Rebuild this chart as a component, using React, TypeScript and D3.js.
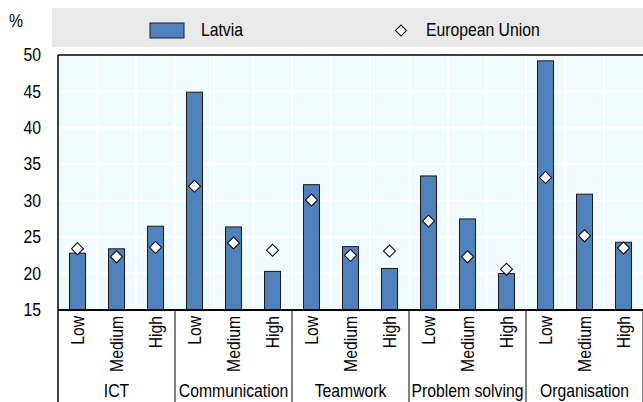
import React from 'react';
import * as d3 from 'd3';

const groups = ['ICT', 'Communication', 'Teamwork', 'Problem solving', 'Organisation'];
const levels = ['Low', 'Medium', 'High'];
const latvia = [22.8, 23.4, 26.5, 44.9, 26.4, 20.3, 32.2, 23.7, 20.7, 33.4, 27.5, 20.0, 49.2, 30.9, 24.3];
const eu = [23.4, 22.3, 23.6, 32.0, 24.2, 23.2, 30.1, 22.5, 23.1, 27.2, 22.3, 20.6, 33.2, 25.2, 23.5];
const yTicks = [15, 20, 25, 30, 35, 40, 45, 50];

const font = "'Liberation Sans', Arial, sans-serif";

// text a bit narrower than plain Arial, like the original
const T = ({ x, y, rotate = 0, anchor = 'start', dy = '0', children }) => (
    <text
        transform={`translate(${x},${y}) rotate(${rotate}) scale(0.9,1)`}
        textAnchor={anchor}
        dy={dy}
        fontSize={17.5}
        fill="#000"
    >
        {children}
    </text>
);

const App = () => {
    const width = 643;
    const height = 402;
    const left = 58;
    const right = 643;
    const top = 55;
    const bottom = 310;

    // one entry per bar: group + level
    const keys = groups.flatMap((g) => levels.map((l) => `${g}|${l}`));

    const xScale = d3.scaleBand().domain(keys).range([left, right]).padding(0);
    const groupScale = d3.scaleBand().domain(groups).range([left, right]).padding(0);
    const yScale = d3.scaleLinear().domain([15, 50]).range([bottom, top]);

    const bw = xScale.bandwidth();
    const barW = bw * 0.41;
    const diamond = d3.symbol(d3.symbolSquare, 72)();
    const legendDiamond = d3.symbol(d3.symbolSquare, 60)();

    return (
        <svg
            width={width}
            height={height}
            style={{ position: 'absolute', left: 0, top: 0, display: 'block', background: '#fff' }}
            fontFamily={font}
        >
            {/* legend */}
            <rect x={52} y={8} width={right - 52} height={39} fill="#e9e9e9" />
            <T x={9} y={27}>%</T>
            <rect x={150} y={23} width={34} height={15} fill="#4f81bd" stroke="#1a1a1a" strokeWidth={1} />
            <T x={201} y={36}>Latvia</T>
            <path d={legendDiamond} transform="translate(401,30.5) rotate(45)" fill="#fff" stroke="#000" strokeWidth={1} />
            <T x={426} y={36}>European Union</T>

            {/* plot background + grid */}
            <rect x={left} y={top} width={right - left} height={bottom - top} fill="#f0fbfd" />
            {yTicks.slice(1, -1).map((t) => (
                <line key={t} x1={left} x2={right} y1={yScale(t)} y2={yScale(t)} stroke="#fff" strokeWidth={2} />
            ))}
            {keys.slice(1).map((k) => (
                <line key={k} x1={xScale(k)} x2={xScale(k)} y1={top} y2={bottom} stroke="#fff" strokeWidth={2} />
            ))}

            {/* bars */}
            {keys.map((k, i) => (
                <rect
                    key={k}
                    x={xScale(k) + (bw - barW) / 2}
                    y={yScale(latvia[i])}
                    width={barW}
                    height={bottom - yScale(latvia[i])}
                    fill="#4f81bd"
                    stroke="#1a1a1a"
                    strokeWidth={1}
                />
            ))}

            {/* EU markers */}
            {keys.map((k, i) => (
                <path
                    key={k}
                    d={diamond}
                    transform={`translate(${xScale(k) + bw / 2},${yScale(eu[i])}) rotate(45)`}
                    fill="#fff"
                    stroke="#000"
                    strokeWidth={1}
                />
            ))}

            {/* frame */}
            <line x1={left} x2={right} y1={top} y2={top} stroke="#000" strokeWidth={1.5} />
            <line x1={left} x2={left} y1={top} y2={height} stroke="#000" strokeWidth={1.5} />
            <line x1={left} x2={right} y1={bottom} y2={bottom} stroke="#000" strokeWidth={2} />

            {/* y axis labels */}
            {yTicks.map((t) => (
                <T key={t} x={41} y={yScale(t)} dy="0.35em" anchor="end">
                    {t}
                </T>
            ))}

            {/* level labels */}
            {keys.map((k) => (
                <T key={k} x={xScale(k) + bw / 2} y={316} rotate={-90} dy="0.35em" anchor="end">
                    {k.split('|')[1]}
                </T>
            ))}

            {/* group separators and labels */}
            {groups.map((g) => (
                <g key={g}>
                    <line
                        x1={groupScale(g) + groupScale.bandwidth()}
                        x2={groupScale(g) + groupScale.bandwidth()}
                        y1={bottom}
                        y2={height}
                        stroke="#000"
                        strokeWidth={1}
                    />
                    <T x={groupScale(g) + groupScale.bandwidth() / 2} y={397} anchor="middle">
                        {g}
                    </T>
                </g>
            ))}
        </svg>
    );
};

export default App;
